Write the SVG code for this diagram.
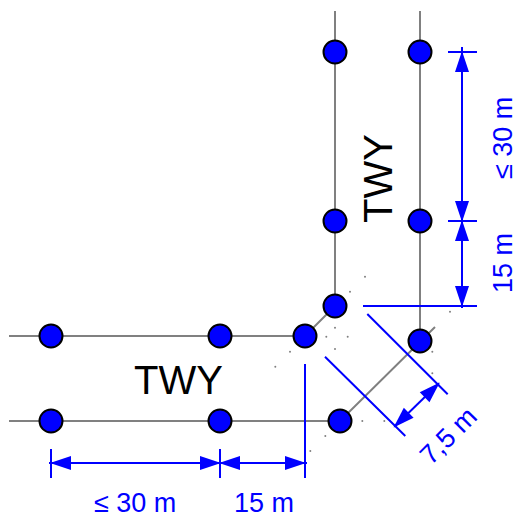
<svg xmlns="http://www.w3.org/2000/svg" width="515" height="518" viewBox="0 0 515 518">
<style>
.tw{fill:none;stroke:#808080;stroke-width:2}
.d{fill:none;stroke:#0000ff;stroke-width:2}
.n{fill:#0000ff;stroke:#000;stroke-width:2}
.a{fill:#0000ff}
.p{fill:#808080}
.t{font-family:"Liberation Sans",Arial,sans-serif;fill:#000;font-size:40px}
.l{font-family:"Liberation Sans",Arial,sans-serif;fill:#0000ff;font-size:27px}
</style>
<defs>
<path id="ah" class="a" d="M1 0L-20-7V7Z"/>
<circle id="dot" class="p" r="1"/>
</defs>
<g id="connectors">
<path class="tw" d="M9 336H305L335 306V11"/>
<path class="tw" d="M9 421H340L435 327"/>
<path class="tw" d="M420 11V341"/>
<path class="d" d="M305 364V478M363 306H477M367.300 314L447.700 394.300M325 356.700L405.300 436"/>
<path class="d" d="M51 449V478M220 449V478M49 463H307"/>
<path class="d" d="M448 52H477M448 221H477M462 47V308"/>
<path class="d" d="M394.300 426.700L439 383.300"/>
<use href="#ah" transform="translate(51 463) rotate(180)"/>
<use href="#ah" transform="translate(220 463)"/>
<use href="#ah" transform="translate(220 463) rotate(180)"/>
<use href="#ah" transform="translate(305 463)"/>
<use href="#ah" transform="translate(462 52) rotate(-90)"/>
<use href="#ah" transform="translate(462 221) rotate(90)"/>
<use href="#ah" transform="translate(462 221) rotate(-90)"/>
<use href="#ah" transform="translate(462 306) rotate(90)"/>
<use href="#ah" transform="translate(439 383.300) rotate(-44)"/>
<use href="#ah" transform="translate(394.300 426.700) rotate(136)"/>
</g>
<g id="points">
<use href="#dot" x="365" y="276.700"/><use href="#dot" x="350" y="291.700"/><use href="#dot" x="335" y="327.700"/>
<use href="#dot" x="326.300" y="336.700"/><use href="#dot" x="347.700" y="336.700"/><use href="#dot" x="335" y="349"/>
<use href="#dot" x="290" y="351.700"/><use href="#dot" x="275.300" y="366.700"/><use href="#dot" x="450" y="311.700"/>
<use href="#dot" x="432.300" y="351.700"/><use href="#dot" x="432.300" y="373.300"/><use href="#dot" x="362.300" y="421"/>
<use href="#dot" x="384.300" y="421"/><use href="#dot" x="325.300" y="436"/><use href="#dot" x="310.300" y="451"/>
</g>
<g id="n1"><circle class="n" cx="51" cy="336" r="11.500"/></g>
<g id="n2"><circle class="n" cx="220" cy="336" r="11.500"/></g>
<g id="n3"><circle class="n" cx="305" cy="336" r="11.500"/></g>
<g id="n4"><circle class="n" cx="51" cy="421" r="11.500"/></g>
<g id="n5"><circle class="n" cx="220" cy="421" r="11.500"/></g>
<g id="n6"><circle class="n" cx="340" cy="421" r="11.500"/></g>
<g id="n7"><circle class="n" cx="335" cy="52" r="11.500"/></g>
<g id="n8"><circle class="n" cx="335" cy="221" r="11.500"/></g>
<g id="n9"><circle class="n" cx="335" cy="306" r="11.500"/></g>
<g id="n10"><circle class="n" cx="420" cy="52" r="11.500"/></g>
<g id="n11"><circle class="n" cx="420" cy="221" r="11.500"/></g>
<g id="n12"><circle class="n" cx="420" cy="341" r="11.500"/></g>
<g id="labels">
<text class="t" x="134" y="393.500">TWY</text>
<text class="t" transform="translate(392 223) rotate(-90)">TWY</text>
<text class="l" x="94" y="512">≤ 30 m</text>
<text class="l" x="234" y="512">15 m</text>
<text class="l" transform="translate(512 179) rotate(-90)">≤ 30 m</text>
<text class="l" transform="translate(512 293) rotate(-90)">15 m</text>
<text class="l" transform="translate(431 466) rotate(-45)">7,5 m</text>
</g>
</svg>
